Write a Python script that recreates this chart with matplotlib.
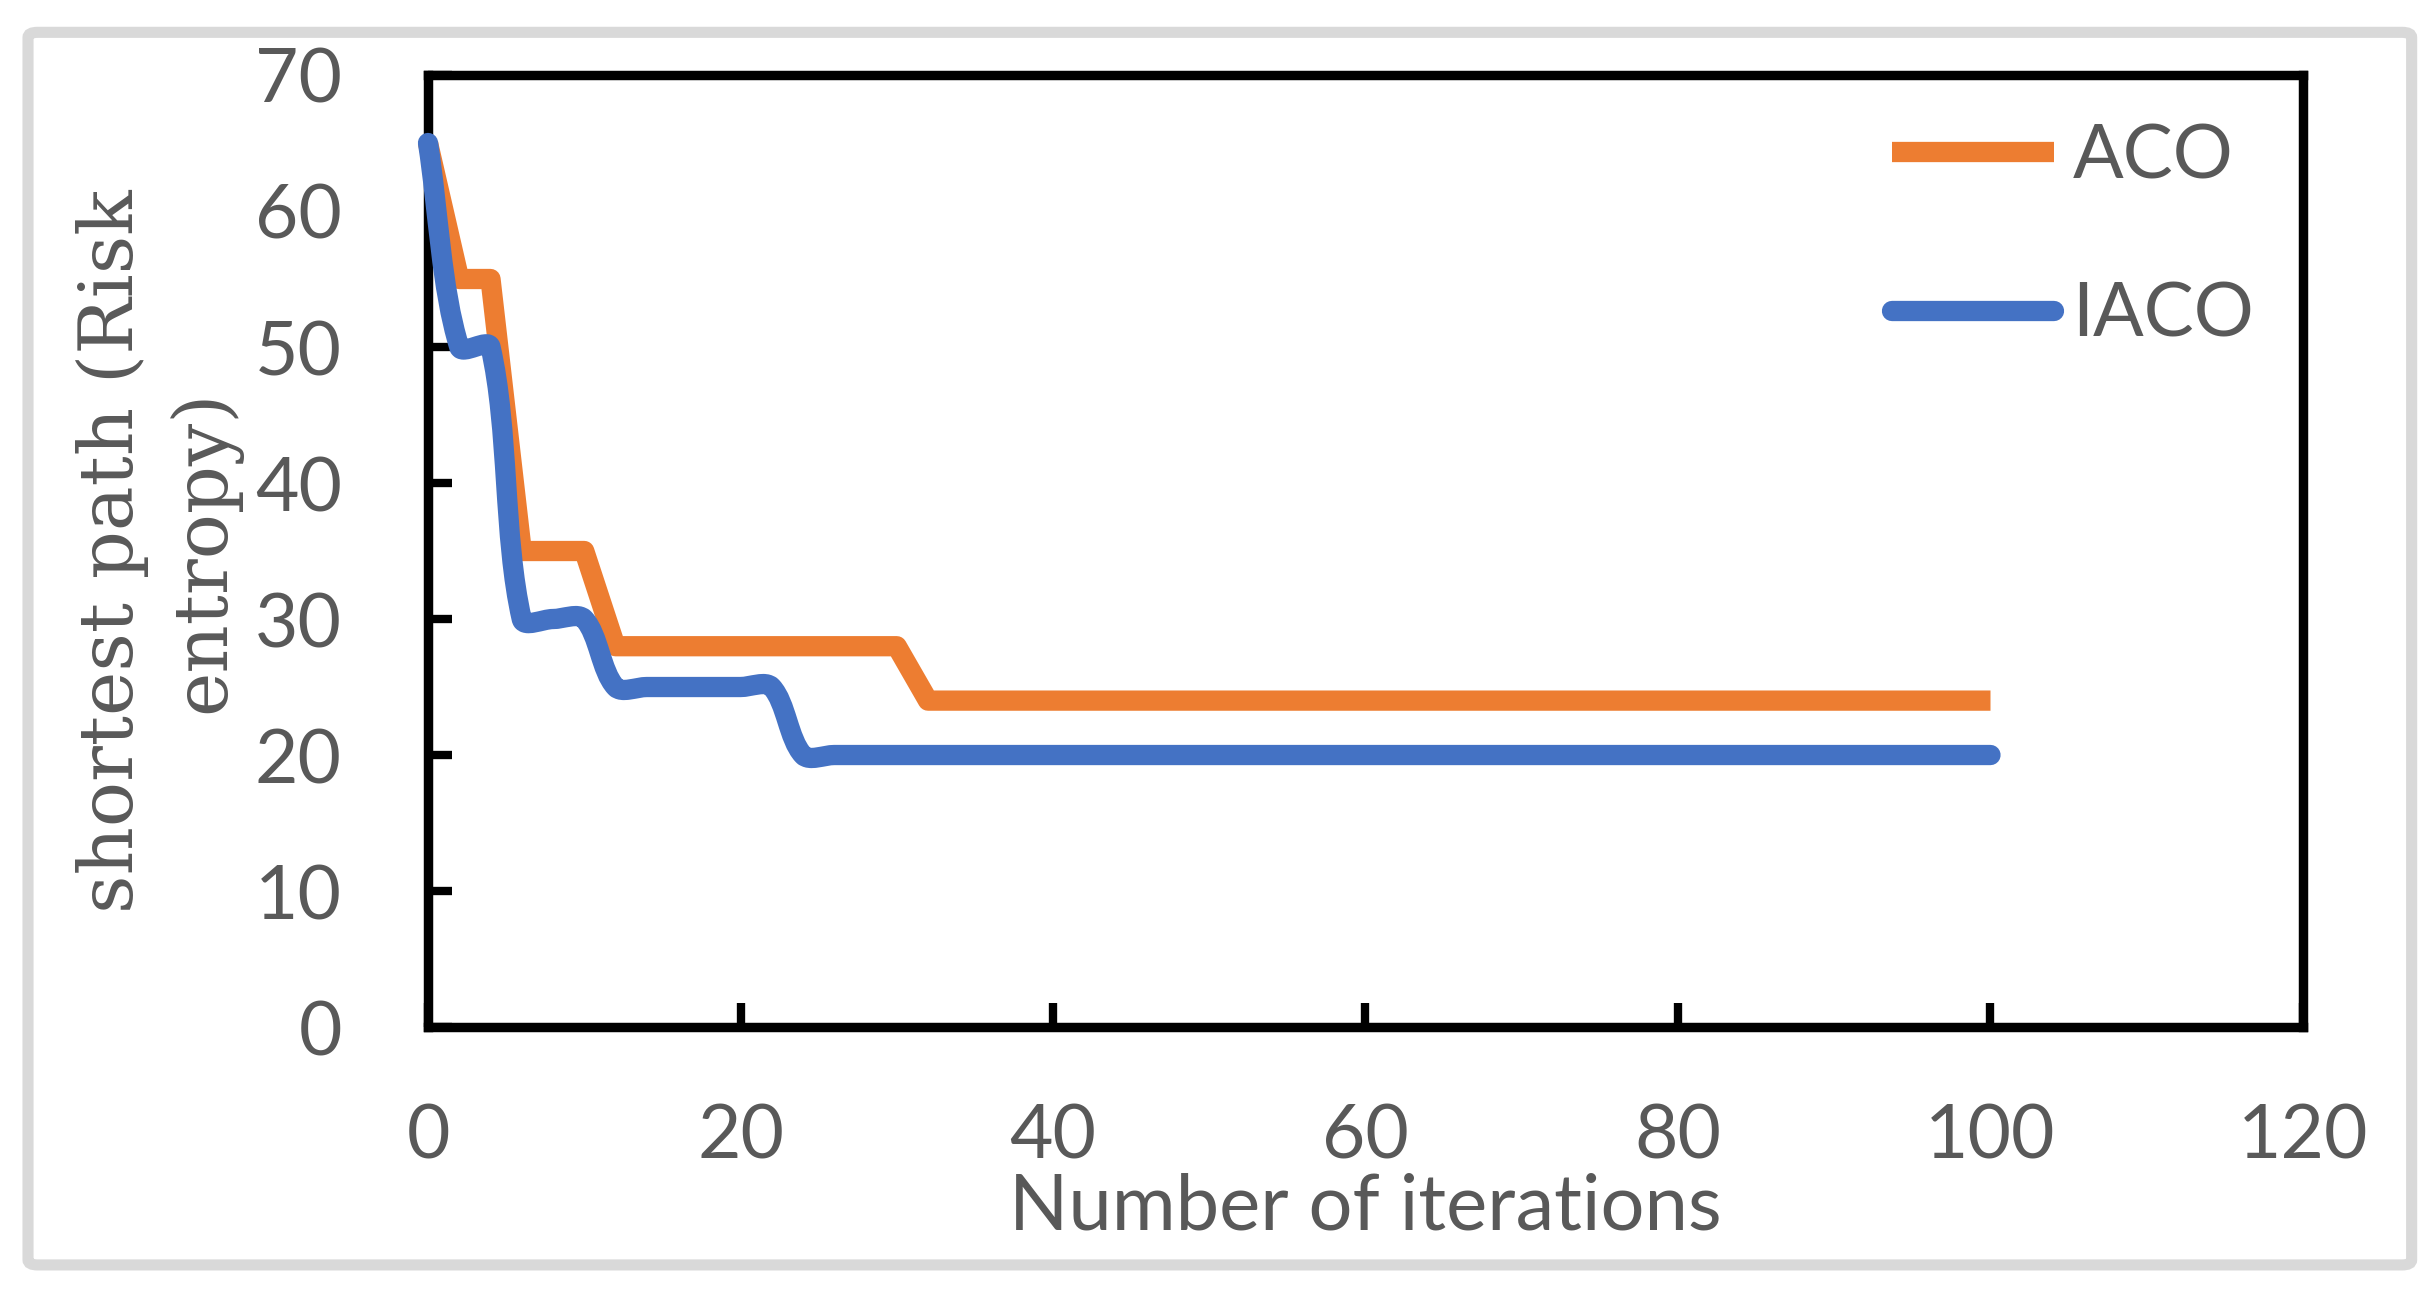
import numpy as np
import matplotlib
matplotlib.use("Agg")
import matplotlib.pyplot as plt
from matplotlib.path import Path
from matplotlib.patches import PathPatch, FancyBboxPatch
from matplotlib.lines import Line2D

# ---- data ----
iterations = list(range(0, 101, 2))
aco = [65, 55, 55, 35, 35, 35] + [28] * 10 + [24] * 35
iaco = [65, 50, 50, 30, 30, 30] + [25] * 6 + [20] * 39
series_names = ["ACO", "IACO"]
x_ticks = [0, 20, 40, 60, 80, 100, 120]
y_ticks = [0, 10, 20, 30, 40, 50, 60, 70]
x_label = "Number of iterations"
y_label = "shortest path (Risk\nentropy)"

ORANGE = "#ED7D31"
BLUE = "#4472C4"
GRAY = "#595959"
SANS = ["Lato", "DejaVu Sans"]
SERIF = ["DejaVu Serif"]


def smooth_path(ax, xs, ys, tension=1.0 / 3.0):
    """Excel-like smoothed line: cubic Beziers whose control points use
    neighbour tangents weighted by on-screen chord lengths."""
    p = np.column_stack([xs, ys]).astype(float)
    d = ax.transData.transform(p)
    n = len(p)

    def dist(a, b):
        return float(np.hypot(*(d[b] - d[a])))

    verts = [p[0]]
    codes = [Path.MOVETO]
    for i in range(n - 1):
        i0, i3 = max(i - 1, 0), min(i + 2, n - 1)
        d01, d12, d23 = dist(i0, i), dist(i, i + 1), dist(i + 1, i3)
        f1 = tension * d12 / (d01 + d12) if d01 + d12 > 0 else 0.0
        f2 = tension * d12 / (d12 + d23) if d12 + d23 > 0 else 0.0
        c1 = p[i] + (p[i + 1] - p[i0]) * f1
        c2 = p[i + 1] - (p[i3] - p[i]) * f2
        verts += [c1, c2, p[i + 1]]
        codes += [Path.CURVE4] * 3
    return Path(np.array(verts), codes)


fig = plt.figure(figsize=(12.18, 6.465), dpi=200)
ax = fig.add_axes([0.1757, 0.2057, 0.9454 - 0.1757, 0.942 - 0.2057])
ax.set_xlim(0, 120)
ax.set_ylim(0, 70)

LW = 7.3
ax.plot(iterations, aco, color=ORANGE, lw=LW, solid_joinstyle="round",
        solid_capstyle="butt", zorder=3, clip_on=False)
patch = PathPatch(smooth_path(ax, iterations, iaco), fill=False,
                  edgecolor=BLUE, lw=LW, capstyle="round",
                  joinstyle="round", zorder=4, clip_on=False,
                  transform=ax.transData)
ax.add_patch(patch)

ax.set_xticks(x_ticks)
ax.set_yticks(y_ticks)

for s in ax.spines.values():
    s.set_linewidth(3.4)
    s.set_color("black")
    s.set_zorder(2)

ax.tick_params(axis="both", direction="in", length=8.5, width=3.0,
               color="black", labelcolor=GRAY, labelsize=27)
ax.tick_params(axis="y", pad=31)
ax.tick_params(axis="x", pad=27)
for lab in ax.get_xticklabels() + ax.get_yticklabels():
    lab.set_fontfamily(SANS)

ax.set_xlabel(x_label, fontsize=28, color=GRAY, family=SANS)
ax.xaxis.label.set_verticalalignment("center")
ax.xaxis.set_label_coords(0.5, -0.19)

ax.set_ylabel(y_label, fontsize=27, color=GRAY, family=SERIF,
              linespacing=1.32)
ax.yaxis.label.set_rotation_mode("default")
ax.yaxis.label.set_horizontalalignment("center")
ax.yaxis.label.set_verticalalignment("center")
ax.yaxis.label.set_multialignment("center")
ax.yaxis.set_label_coords(-0.1435, 0.5)

handles = [
    Line2D([], [], color=ORANGE, lw=LW, solid_capstyle="butt"),
    Line2D([], [], color=BLUE, lw=LW, solid_capstyle="round"),
]
leg = ax.legend(handles, series_names, loc="center left",
                bbox_to_anchor=(0.781, 0.8305), frameon=False,
                borderpad=0, borderaxespad=0, handlelength=2.15,
                handletextpad=0.25, labelspacing=1.19,
                prop={"family": SANS, "size": 27})
for t in leg.get_texts():
    t.set_color(GRAY)

border = FancyBboxPatch((0.0115, 0.0217), 0.9785, 0.9533,
                        boxstyle="round,pad=0,rounding_size=0.004",
                        transform=fig.transFigure, fill=False,
                        edgecolor="#D9D9D9", lw=4)
fig.patches.append(border)

fig.savefig("out.png", dpi=200, facecolor="white")
